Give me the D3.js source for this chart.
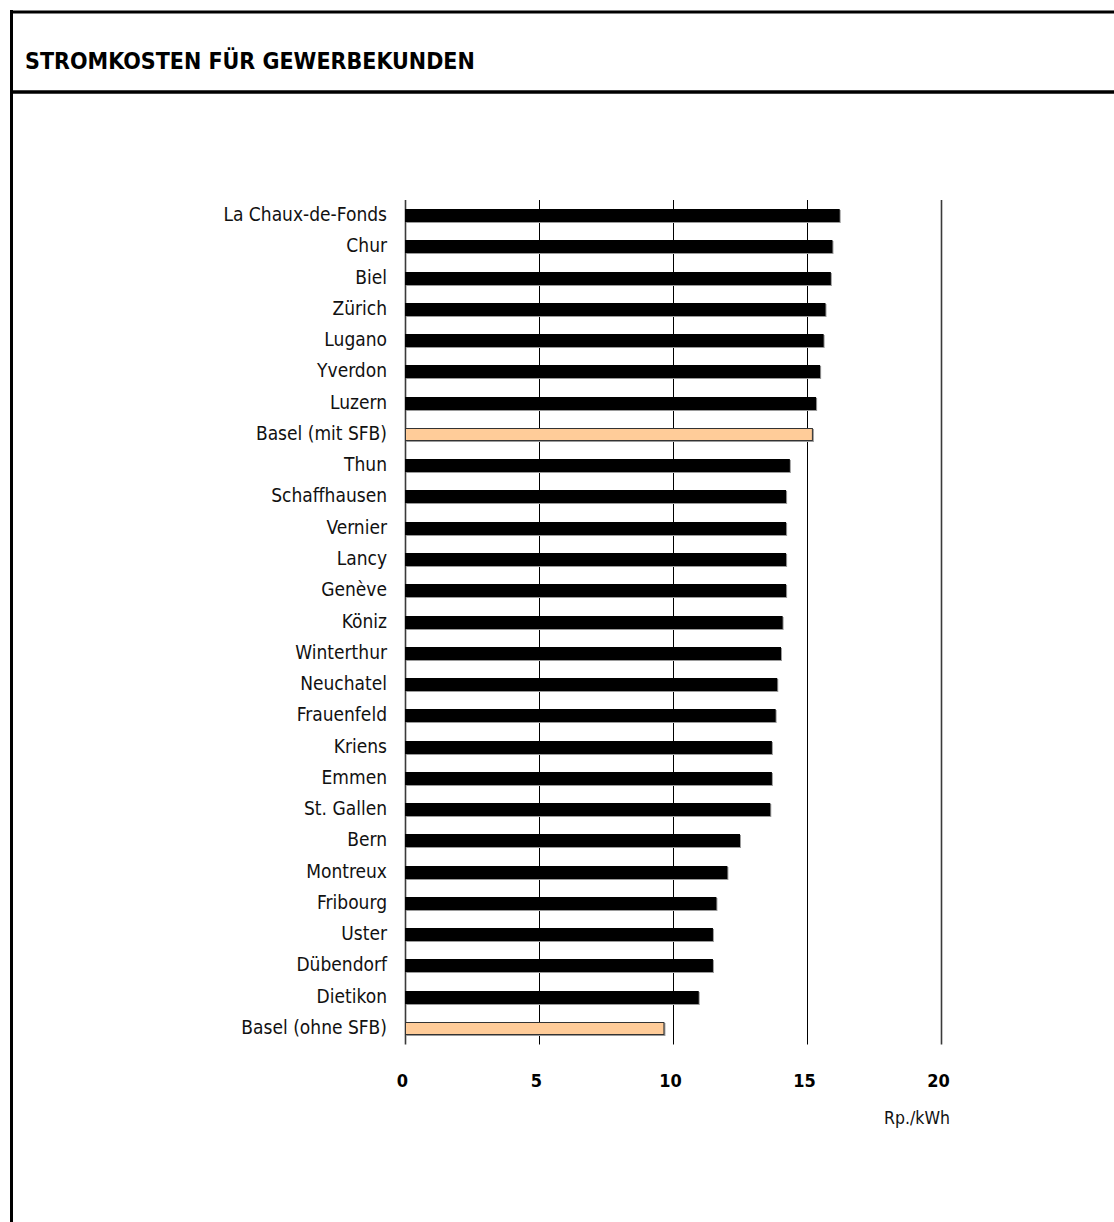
<!DOCTYPE html>
<html>
<head>
<meta charset="utf-8">
<script src="https://cdn.jsdelivr.net/npm/d3@7"></script>
<style>
  html, body { margin: 0; padding: 0; background: #fff; }
  svg { display: block; }
</style>
</head>
<body>
<svg id="chart" width="1114" height="1222"></svg>
<script>
const title = "STROMKOSTEN FÜR GEWERBEKUNDEN";
const categories = [
  "La Chaux-de-Fonds", "Chur", "Biel", "Zürich", "Lugano", "Yverdon", "Luzern",
  "Basel (mit SFB)", "Thun", "Schaffhausen", "Vernier", "Lancy", "Genève", "Köniz",
  "Winterthur", "Neuchatel", "Frauenfeld", "Kriens", "Emmen", "St. Gallen", "Bern",
  "Montreux", "Fribourg", "Uster", "Dübendorf", "Dietikon", "Basel (ohne SFB)"
];
const values = [
  16.22, 15.95, 15.89, 15.69, 15.62, 15.49, 15.34,
  15.22, 14.36, 14.22, 14.22, 14.22, 14.22, 14.09,
  14.03, 13.89, 13.83, 13.69, 13.69, 13.63, 12.50,
  12.03, 11.62, 11.49, 11.49, 10.96, 9.68
];
const highlighted = ["Basel (mit SFB)", "Basel (ohne SFB)"];
const tickValues = [0, 5, 10, 15, 20];
const unitLabel = "Rp./kWh";

const data = categories.map((c, i) => ({ name: c, value: values[i] }));
const FONT = "'DejaVu Sans Condensed', 'DejaVu Sans', sans-serif";

const svg = d3.select("#chart");

// frame
svg.append("line").attr("x1", 11.5).attr("x2", 11.5).attr("y1", 10).attr("y2", 1222)
  .attr("stroke", "#000").attr("stroke-width", 3);
svg.append("line").attr("x1", 10).attr("x2", 1114).attr("y1", 12).attr("y2", 12)
  .attr("stroke", "#000").attr("stroke-width", 3);
svg.append("line").attr("x1", 10).attr("x2", 1114).attr("y1", 92).attr("y2", 92)
  .attr("stroke", "#000").attr("stroke-width", 3.5);

svg.append("text").attr("x", 25).attr("y", 68.5)
  .attr("font-family", FONT).attr("font-weight", "bold").attr("font-size", 23)
  .attr("fill", "#000").text(title);

const x = d3.scaleLinear().domain([0, 20]).range([405, 941]);
const y = d3.scaleBand().domain(categories).range([200, 1044])
  .paddingInner(0.585).paddingOuter(0.2925);
const yTop = d => Math.round(y(d));
const bh = Math.round(y.bandwidth());

// grid lines
svg.append("g").selectAll("line").data(tickValues).join("line")
  .attr("x1", d => Math.round(x(d)) + 0.5).attr("x2", d => Math.round(x(d)) + 0.5)
  .attr("y1", 200).attr("y2", 1044.5)
  .attr("stroke", d => (d === 0 || d === 20) ? "#3a3a3a" : "#000")
  .attr("stroke-width", d => (d === 0 || d === 20) ? 1.6 : 1);

// bar shadows
svg.append("g").selectAll("rect").data(data).join("rect")
  .attr("x", x(0) + 1).attr("y", d => yTop(d.name) + 1)
  .attr("width", d => x(d.value) - x(0)).attr("height", bh)
  .attr("fill", "#9a9a9a");

// bars
svg.append("g").selectAll("rect").data(data).join("rect")
  .attr("x", d => highlighted.includes(d.name) ? x(0) + 0.5 : x(0))
  .attr("y", d => highlighted.includes(d.name) ? yTop(d.name) + 0.5 : yTop(d.name))
  .attr("width", d => highlighted.includes(d.name) ? x(d.value) - x(0) - 1 : x(d.value) - x(0))
  .attr("height", d => highlighted.includes(d.name) ? bh - 1 : bh)
  .attr("fill", d => highlighted.includes(d.name) ? "#FFCC99" : "#000")
  .attr("stroke", d => highlighted.includes(d.name) ? "#333" : "none")
  .attr("stroke-width", 1);

// category labels
svg.append("g").selectAll("text").data(data).join("text")
  .attr("x", 387).attr("y", d => y(d.name) + y.bandwidth() / 2 + 5.5)
  .attr("text-anchor", "end")
  .attr("font-family", FONT).attr("font-size", 19).attr("fill", "#111")
  .text(d => d.name);

// x axis labels
const axis = d3.axisBottom(x).tickValues(tickValues).tickSize(0).tickPadding(0)
  .tickFormat(d3.format("d"));
const gAxis = svg.append("g").attr("transform", "translate(-3, 1073)").call(axis);
gAxis.select(".domain").remove();
gAxis.selectAll("text")
  .attr("dy", 0).attr("y", 13.5)
  .attr("font-family", FONT).attr("font-weight", "bold").attr("font-size", 18)
  .attr("fill", "#000");

svg.append("text").attr("x", 950).attr("y", 1123.5).attr("text-anchor", "end")
  .attr("font-family", FONT).attr("font-size", 17.5).attr("fill", "#111")
  .text(unitLabel);
</script>
</body>
</html>
